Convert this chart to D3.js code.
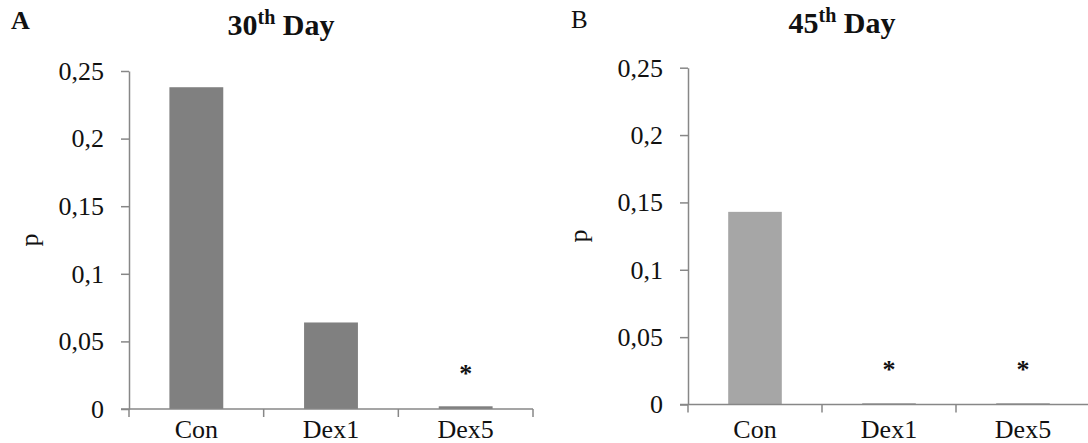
<!DOCTYPE html>
<html>
<head>
<meta charset="utf-8">
<script src="https://cdn.jsdelivr.net/npm/d3@7"></script>
<style>
  html, body { margin: 0; padding: 0; background: #fff; }
  svg { display: block; }
  text { font-family: "Liberation Serif", "Times New Roman", serif; fill: #111; }
</style>
</head>
<body>
<svg id="chart" width="1088" height="443"></svg>
<script>
// ---- data ----
const categories = ["Con", "Dex1", "Dex5"];
const day30Values = [0.238, 0.064, 0.002];
const day45Values = [0.143, 0.001, 0.001];
const day30Stars = ["", "", "*"];
const day45Stars = ["", "*", "*"];
const yTickValues = [0, 0.05, 0.1, 0.15, 0.2, 0.25];
const yTickLabels = ["0", "0,05", "0,1", "0,15", "0,2", "0,25"];
const panelLetters = ["A", "B"];
const titleNumbers = ["30", "45"];

const svg = d3.select("#chart");
const axisColor = "#878787";

const panels = [
  { values: day30Values, stars: day30Stars, color: "#808080", letter: panelLetters[0], num: titleNumbers[0],
    xr: [129, 533], yr: [409, 71], letterPos: [11, 29], letterBold: true, letterSize: 26, titleX: 281, titleY: 35, pX: 31, endTick: true },
  { values: day45Values, stars: day45Stars, color: "#a6a6a6", letter: panelLetters[1], num: titleNumbers[1],
    xr: [688, 1090], yr: [404.5, 67.7], letterPos: [571, 28], letterBold: false, letterSize: 25, titleX: 842, titleY: 33, pX: 580, endTick: false }
];

const tickLabelMap = new Map(yTickValues.map((v, i) => [v, yTickLabels[i]]));

panels.forEach(p => {
  const g = svg.append("g");
  const x = d3.scaleBand().domain(categories).range(p.xr).paddingInner(0.6).paddingOuter(0.3);
  const y = d3.scaleLinear().domain([0, 0.25]).range(p.yr);

  // bars
  g.selectAll("rect.bar").data(p.values).join("rect")
    .attr("class", "bar")
    .attr("x", (d, i) => x(categories[i]))
    .attr("width", x.bandwidth())
    .attr("y", d => y(d))
    .attr("height", d => y(0) - y(d))
    .attr("fill", p.color);

  // y axis
  const yAxis = d3.axisLeft(y).tickValues(yTickValues)
    .tickFormat(v => tickLabelMap.get(v)).tickSize(8).tickSizeOuter(0).tickPadding(17);
  const ya = g.append("g").attr("transform", `translate(${p.xr[0]},0)`).call(yAxis);
  ya.select(".domain").attr("stroke", axisColor).attr("stroke-width", 1.5);
  ya.selectAll(".tick line").attr("stroke", axisColor).attr("stroke-width", 1.5);
  ya.selectAll(".tick text").style("font-size", "26px").attr("fill", "#111")
    .style("font-family", '"Liberation Serif", serif');

  // x axis line and band-boundary ticks
  const boundaryPos = d3.range(categories.length + 1).map(i => p.xr[0] + i * x.step() / (1 - 0) * 1);
  const stepW = (p.xr[1] - p.xr[0]) / categories.length;
  const bpos = d3.range(categories.length + 1).map(i => p.xr[0] + i * stepW);
  g.append("line")
    .attr("x1", p.xr[0] - 8).attr("x2", p.endTick ? p.xr[1] : 1088)
    .attr("y1", y(0)).attr("y2", y(0))
    .attr("stroke", axisColor).attr("stroke-width", 1.5);
  g.selectAll("line.xt").data(bpos.filter((b, i) => p.endTick || i < categories.length)).join("line")
    .attr("class", "xt")
    .attr("x1", d => d).attr("x2", d => d)
    .attr("y1", y(0)).attr("y2", y(0) + 8)
    .attr("stroke", axisColor).attr("stroke-width", 1.5);

  // category labels
  g.selectAll("text.cat").data(categories).join("text")
    .attr("class", "cat")
    .attr("x", c => x(c) + x.bandwidth() / 2)
    .attr("y", 438)
    .attr("text-anchor", "middle")
    .style("font-size", "26px")
    .text(c => c);

  // significance stars
  g.selectAll("text.star").data(p.stars).join("text")
    .attr("class", "star")
    .attr("x", (s, i) => x(categories[i]) + x.bandwidth() / 2)
    .attr("y", y(0.03) + 14)
    .attr("text-anchor", "middle")
    .style("font-size", "26px")
    .style("font-weight", "bold")
    .text(s => s);

  // y label
  g.append("text")
    .attr("transform", `translate(${p.pX + 7},${(p.yr[0] + p.yr[1]) / 2}) rotate(-90)`)
    .attr("text-anchor", "middle")
    .style("font-size", "26px")
    .text("p");

  // panel letter
  g.append("text")
    .attr("x", p.letterPos[0]).attr("y", p.letterPos[1])
    .style("font-size", p.letterSize + "px")
    .style("font-weight", p.letterBold ? "bold" : "normal")
    .text(p.letter);

  // title
  const t = g.append("text")
    .attr("x", p.titleX).attr("y", p.titleY)
    .attr("text-anchor", "middle")
    .style("font-size", "30px").style("font-weight", "bold");
  t.append("tspan").text(p.num);
  t.append("tspan").attr("dy", -11).style("font-size", "20px").text("th");
  t.append("tspan").attr("dy", 11).text(" Day");
});
</script>
</body>
</html>
